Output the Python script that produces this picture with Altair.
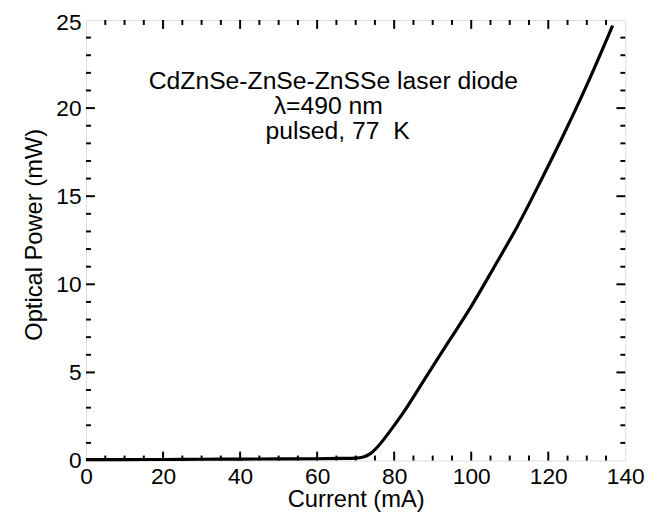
import altair as alt
import pandas as pd

# ---- data ----
current = [0, 10, 20, 30, 40, 50, 60, 66, 70, 72, 74, 76, 78, 82, 88, 94,
           100, 106, 112, 118, 124, 130, 136.7]
power = [0.05, 0.05, 0.06, 0.07, 0.08, 0.09, 0.1, 0.12, 0.14, 0.2, 0.42, 0.85,
         1.4, 2.6, 4.65, 6.7, 8.75, 11.0, 13.3, 15.85, 18.5, 21.3, 24.68]

x_major = [20, 40, 60, 80, 100, 120]
x_minor = [v for v in range(5, 140, 5) if v % 20 != 0]
y_major = [5, 10, 15, 20]
y_minor = [v for v in range(1, 25) if v % 5 != 0]
x_labels = [0, 20, 40, 60, 80, 100, 120, 140]
y_labels = [0, 5, 10, 15, 20, 25]

note_lines = ["CdZnSe-ZnSe-ZnSSe laser diode", "λ=490 nm", "pulsed, 77\u00a0\u00a0K"]
note_x = [64.2, 62.9, 65.3]
note_y = [21.09, 19.69, 18.27]

FONT = "Liberation Sans"
W, H = 546, 446

xscale = alt.Scale(domain=[0, 140], nice=False, zero=False)
yscale = alt.Scale(domain=[0, 25], nice=False, zero=False)

curve_df = pd.DataFrame({"current": current, "power": power})

base_x = alt.X("current:Q", scale=xscale,
               axis=alt.Axis(values=x_labels, ticks=False, domain=False, grid=False,
                             labelFontSize=23, labelPadding=5, labelFlush=False,
                             labelOverlap=False, labelColor="black",
                             title="Current (mA)", titleFontSize=24,
                             titleFontWeight="normal", titleColor="black",
                             titleBaseline="alphabetic", titleY=47))
base_y = alt.Y("power:Q", scale=yscale,
               axis=alt.Axis(values=y_labels, ticks=False, domain=False, grid=False,
                             labelFontSize=23, labelPadding=5, labelFlush=False,
                             labelOverlap=False, labelColor="black",
                             labelOffset={"condition": {"test": "datum.value == 25", "value": 3},
                                          "value": 0},
                             title="Optical Power (mW)", titleFontSize=24,
                             titleFontWeight="normal", titleColor="black",
                             titleBaseline="alphabetic", titleX=-45, titleY=217))

curve = alt.Chart(curve_df).mark_line(
    color="black", strokeWidth=3.2, interpolate="monotone"
).encode(x=base_x, y=base_y)


def xticks(vals, length, at, sign):
    df = pd.DataFrame({"current": vals})
    return alt.Chart(df).mark_tick(
        orient="vertical", size=length, thickness=2, color="black", opacity=1,
        yOffset=sign * length / 2
    ).encode(x=alt.X("current:Q", scale=xscale), y=alt.datum(at))


def yticks(vals, length, at, sign):
    df = pd.DataFrame({"power": vals})
    return alt.Chart(df).mark_tick(
        orient="horizontal", size=length, thickness=2, color="black", opacity=1,
        xOffset=sign * length / 2
    ).encode(y=alt.Y("power:Q", scale=yscale), x=alt.datum(at))


ticks = [
    xticks(x_major, 9, 0, -1), xticks(x_minor, 5, 0, -1),
    xticks(x_major, 9, 25, 1), xticks(x_minor, 5, 25, 1),
    yticks(y_major, 9, 0, 1), yticks(y_minor, 5, 0, 1),
    yticks(y_major, 9, 140, -1), yticks(y_minor, 5, 140, -1),
]

note_df = pd.DataFrame({"current": note_x, "power": note_y, "txt": note_lines})
note = alt.Chart(note_df).mark_text(
    font=FONT, fontSize=25, align="center", baseline="alphabetic", color="black"
).encode(x=alt.X("current:Q", scale=xscale), y=alt.Y("power:Q", scale=yscale),
         text="txt:N")

chart = alt.layer(curve, *ticks, note).properties(
    width=W, height=H,
    autosize="none",
    padding={"left": 79, "top": 9, "right": 25, "bottom": 51},
    background="white",
).configure_view(
    stroke="black", strokeWidth=2.5
).configure(font=FONT)

chart.save("out.html", embed_options={"renderer": "svg", "actions": False})
